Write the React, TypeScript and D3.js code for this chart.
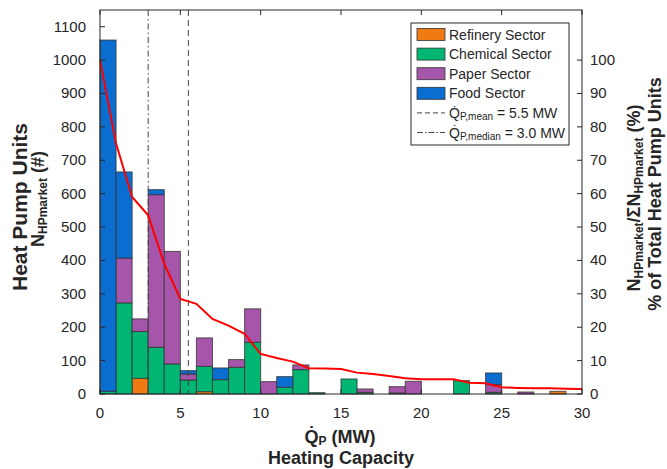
import React from 'react';
import * as d3 from 'd3';

// bins are 1 MW wide, starting at 0
const binStart = d3.range(0, 30);
const refinery = [0, 0, 47, 0, 0, 0, 7, 0, 0, 0, 0, 0, 0, 0, 0, 0, 0, 0, 0, 0, 0, 0, 0, 0, 0, 0, 0, 0, 8, 0];
const chemical = [8, 273, 140, 140, 90, 42, 76, 43, 80, 155, 0, 20, 73, 4, 0, 45, 5, 0, 3, 0, 0, 0, 40, 0, 5, 0, 0, 0, 0, 0];
const paper = [0, 134, 38, 457, 337, 18, 85, 0, 23, 100, 37, 0, 14, 0, 0, 0, 10, 0, 19, 38, 0, 0, 0, 0, 23, 0, 6, 0, 0, 0];
const food = [1052, 258, 0, 15, 0, 10, 0, 35, 0, 0, 0, 32, 0, 0, 0, 0, 0, 0, 0, 0, 0, 0, 0, 0, 35, 0, 0, 0, 0, 0];

// share of units at or above each capacity (%)
const shareX = d3.range(0, 31);
const sharePct = [100, 75, 59, 53.5, 39, 28.5, 27, 22.5, 20.5, 18, 12, 10.8, 9.7, 7.7, 7.6, 7.5, 6.4, 6, 5.4, 4.7, 4.4, 4.4, 4.4, 3.4, 3.2, 2, 1.8, 1.7, 1.7, 1.6, 1.5];

const sectors = ['Refinery Sector', 'Chemical Sector', 'Paper Sector', 'Food Sector'];
const sectorColors = ['#EF7B12', '#00B672', '#A656AA', '#0A6ED1'];
const meanQ = 5.5;
const medianQ = 3.0;

const xTicks = [0, 5, 10, 15, 20, 25, 30];
const yTicks = d3.range(0, 1200, 100);
const pctTicks = d3.range(0, 110, 10);

const W = 667;
const H = 469;
const left = 100, right = 582, top = 10, bottom = 394;
const axisColor = '#262626';
const font = '"Liberation Sans", Arial, sans-serif';

export default function App() {
  const x = d3.scaleLinear().domain([0, 30]).range([left, right]);
  const y = d3.scaleLinear().domain([0, 1150]).range([bottom, top]);
  const yPct = d3.scaleLinear().domain([0, 115]).range([bottom, top]);

  const rows = binStart.map((b, i) => ({
    b,
    refinery: refinery[i],
    chemical: chemical[i],
    paper: paper[i],
    food: food[i],
  }));
  const keys = ['refinery', 'chemical', 'paper', 'food'];
  const stacked = d3.stack<any>().keys(keys)(rows);

  const line = d3.line<number>()
    .x((_, i) => x(shareX[i]))
    .y((d) => yPct(d));

  const legX = 411, legY = 23, legW = 158, legH = 122;
  const rowY = (i: number) => 34.5 + i * 19.6;

  return (
    <svg width={W} height={H} style={{ position: 'absolute', left: 0, top: 0, background: '#fff' }} fontFamily={font}>
      <rect x={0} y={0} width={W} height={H} fill="#fff" />

      {/* bars */}
      {stacked.map((s, si) => (
        <g key={keys[si]}>
          {s.map((d, i) => {
            const h = y(d[0]) - y(d[1]);
            if (h <= 0) return null;
            return (
              <rect key={i}
                x={x(binStart[i])} y={y(d[1])}
                width={x(binStart[i] + 1) - x(binStart[i])} height={h}
                fill={sectorColors[si]} stroke="#333" strokeOpacity={0.8} strokeWidth={1} />
            );
          })}
        </g>
      ))}

      {/* mean / median lines */}
      <line x1={x(meanQ)} x2={x(meanQ)} y1={top} y2={bottom} stroke="#444" strokeWidth={1} strokeDasharray="6,4" />
      <line x1={x(medianQ)} x2={x(medianQ)} y1={top} y2={bottom} stroke="#444" strokeWidth={1} strokeDasharray="6,3,1.5,3" />

      {/* share line */}
      <path d={line(sharePct) || ''} fill="none" stroke="#FF0000" strokeWidth={2} />

      {/* box */}
      <rect x={left} y={top} width={right - left} height={bottom - top} fill="none" stroke={axisColor} strokeWidth={1} />

      {/* x ticks */}
      {xTicks.map((t) => (
        <g key={'x' + t}>
          <line x1={x(t)} x2={x(t)} y1={bottom} y2={bottom - 5} stroke={axisColor} />
          <line x1={x(t)} x2={x(t)} y1={top} y2={top + 5} stroke={axisColor} />
          <text x={x(t)} y={418} fontSize={15} textAnchor="middle" fill={axisColor}>{t}</text>
        </g>
      ))}

      {/* left y ticks */}
      {yTicks.map((t) => (
        <g key={'y' + t}>
          <line x1={left} x2={left + 5} y1={y(t)} y2={y(t)} stroke={axisColor} />
          <text x={86} y={y(t) + 5} fontSize={15} textAnchor="end" fill={axisColor}>{t}</text>
        </g>
      ))}

      {/* right y ticks */}
      {pctTicks.map((t) => (
        <g key={'p' + t}>
          <line x1={right - 5} x2={right} y1={yPct(t)} y2={yPct(t)} stroke={axisColor} />
          <text x={590} y={yPct(t) + 5} fontSize={15} textAnchor="start" fill={axisColor}>{t}</text>
        </g>
      ))}

      {/* x title */}
      <text x={340} y={443} fontSize={18} fontWeight="bold" textAnchor="middle" fill={axisColor}>
        Q̇<tspan fontSize={12} dy={2}>P</tspan><tspan dy={-2}> (MW)</tspan>
      </text>
      <text x={341} y={464} fontSize={18} fontWeight="bold" textAnchor="middle" fill={axisColor}>Heating Capacity</text>

      {/* left title */}
      <g transform="translate(27,207) rotate(-90)">
        <text x={0} y={0} fontSize={21} fontWeight="bold" textAnchor="middle" fill={axisColor}>Heat Pump Units</text>
      </g>
      <g transform="translate(44,199) rotate(-90)">
        <text x={0} y={0} fontSize={18} fontWeight="bold" textAnchor="middle" fill={axisColor}>
          N<tspan fontSize={12} dy={3}>HPmarket</tspan><tspan dy={-3}> (#)</tspan>
        </text>
      </g>

      {/* right title */}
      <g transform="translate(640,198) rotate(-90)">
        <text x={0} y={0} fontSize={18} fontWeight="bold" textAnchor="middle" fill={axisColor}>
          N<tspan fontSize={12} dy={3}>HPmarket</tspan><tspan dy={-3}>/ΣN</tspan><tspan fontSize={12} dy={3}>HPmarket</tspan><tspan dy={-3}> (%)</tspan>
        </text>
      </g>
      <g transform="translate(661,194) rotate(-90)">
        <text x={0} y={0} fontSize={18} fontWeight="bold" textAnchor="middle" fill={axisColor}>% of Total Heat Pump Units</text>
      </g>

      {/* legend */}
      <rect x={legX} y={legY} width={legW} height={legH} fill="#fff" stroke={axisColor} strokeWidth={1} />
      {sectors.map((s, i) => (
        <g key={s}>
          <rect x={417} y={rowY(i) - 6} width={28} height={12} fill={sectorColors[i]} stroke="#333" strokeWidth={0.8} />
          <text x={449} y={rowY(i) + 5} fontSize={14} fill={axisColor}>{s}</text>
        </g>
      ))}
      <line x1={417} x2={445} y1={rowY(4)} y2={rowY(4)} stroke="#444" strokeDasharray="5,3" />
      <text x={449} y={rowY(4) + 5} fontSize={14} fill={axisColor}>
        Q̇<tspan fontSize={10} dy={2}>P,mean</tspan><tspan dy={-2}> = 5.5 MW</tspan>
      </text>
      <line x1={417} x2={445} y1={rowY(5)} y2={rowY(5)} stroke="#444" strokeDasharray="6,2,1.5,2" />
      <text x={449} y={rowY(5) + 5} fontSize={14} fill={axisColor}>
        Q̇<tspan fontSize={10} dy={2}>P,median</tspan><tspan dy={-2}> = 3.0 MW</tspan>
      </text>
    </svg>
  );
}
